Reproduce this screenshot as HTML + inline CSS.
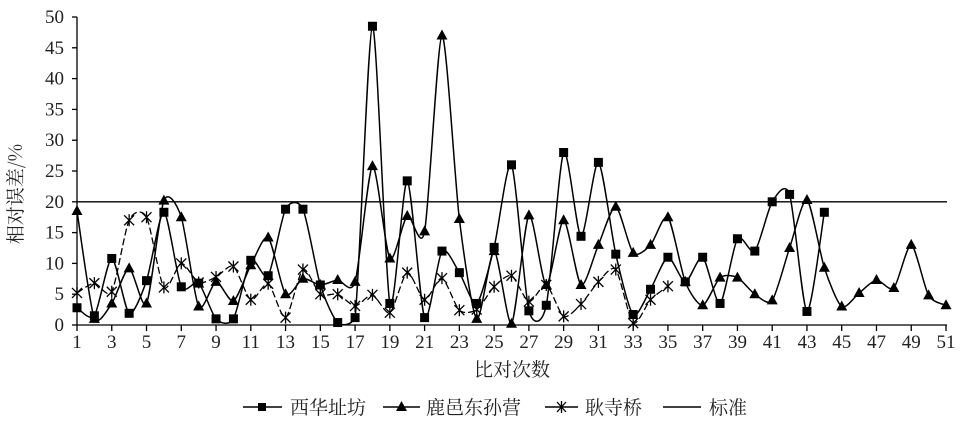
<!DOCTYPE html>
<html><head><meta charset="utf-8"><style>
html,body{margin:0;padding:0;background:#fff;}
svg{display:block;font-family:"Liberation Serif","Noto Serif CJK SC",serif;}
</style></head><body>
<svg id="c" width="969" height="423" viewBox="0 0 969 423" xmlns="http://www.w3.org/2000/svg">
<g id="ax" stroke="#000" stroke-width="1.3" fill="none"></g>
<g id="lbl" font-size="19" fill="#222"></g>
<g id="ser"></g>
<text x="18" y="190" font-size="19" fill="#222" transform="rotate(-90 22 190)" text-anchor="middle" font-family="'Noto Serif CJK SC',serif">相对误差/%</text>
<text x="512" y="376" font-size="19" fill="#222" text-anchor="middle" font-family="'Noto Serif CJK SC',serif">比对次数</text>
<g font-size="19" fill="#222" font-family="'Noto Serif CJK SC',serif">
<line x1="243" y1="407" x2="282" y2="407" stroke="#000" stroke-width="1.5"/><rect x="258" y="403" width="8" height="8" fill="#000"/>
<text x="290" y="414">西华址坊</text>
<line x1="383" y1="407" x2="420" y2="407" stroke="#000" stroke-width="1.5"/><polygon points="401.5,401 407,411 396,411" fill="#000"/>
<text x="426" y="414">鹿邑东孙营</text>
<line x1="545" y1="407" x2="578" y2="407" stroke="#000" stroke-width="1.5"/><path d="M557,402L566,412M566,402L557,412M561.5,401V413" stroke="#000" stroke-width="1.3"/>
<text x="585" y="414">耿寺桥</text>
<line x1="663" y1="407" x2="701" y2="407" stroke="#000" stroke-width="1.5"/>
<text x="709" y="414">标准</text>
</g>
</svg>
<script>
const NS="http://www.w3.org/2000/svg";
const X=i=>77+17.38*(i-1), Y=v=>325-6.16*v;
const ax=document.getElementById('ax'), lbl=document.getElementById('lbl'), ser=document.getElementById('ser');
function el(p,t,a){const e=document.createElementNS(NS,t);for(const k in a)e.setAttribute(k,a[k]);p.appendChild(e);return e;}
el(ax,'line',{x1:77,y1:17,x2:77,y2:325});
el(ax,'line',{x1:77,y1:325,x2:947,y2:325});
for(let v=0;v<=50;v+=5){el(ax,'line',{x1:72,y1:Y(v),x2:77,y2:Y(v)});const t=el(lbl,'text',{x:64,y:Y(v)+6,'text-anchor':'end'});t.textContent=v;}
for(let i=1;i<=51;i+=2){el(ax,'line',{x1:X(i),y1:325,x2:X(i),y2:331});const t=el(lbl,'text',{x:X(i),y:348,'text-anchor':'middle'});t.textContent=i;}
el(ax,'line',{x1:77,y1:Y(20),x2:947,y2:Y(20)});
const sq=[2.8,1.5,10.8,1.9,7.2,18.3,6.2,6.8,1.0,1.0,10.5,8.0,18.8,18.8,6.5,0.4,1.2,48.5,3.5,23.4,1.2,12.0,8.5,3.5,12.6,26,2.3,3.2,28,14.4,26.4,11.5,1.7,5.8,11.0,7.0,11.0,3.5,14.0,12.0,20.0,21.2,2.2,18.3];
const tr=[18.5,1.0,3.5,9.2,3.5,20.2,17.5,3.0,7.0,3.9,9.7,14.2,5.0,7.5,6.5,7.3,7.0,25.8,10.8,17.7,15.2,47,17.2,1.0,12.0,0.2,17.8,6.5,17,6.5,13,19.2,11.7,13,17.5,7.0,3.2,7.7,7.7,5.0,4.0,12.5,20.3,9.3,3.0,5.2,7.3,6.0,13.0,4.8,3.2];
const xs=[5.2,6.8,5.4,17.0,17.5,6.1,10.0,6.9,7.8,9.5,4.1,6.7,1.2,9.0,5.0,5.0,3.1,4.9,2.0,8.5,4.1,7.6,2.4,2.5,6.2,8.0,3.8,6.5,1.4,3.4,7.0,9.0,0.3,4.1,6.3];
function path(d){const p=d.map((v,i)=>[X(i+1),Y(v)]);let s=`M${p[0][0]},${p[0][1]}`;const k=8;
for(let i=0;i<p.length-1;i++){const p0=p[Math.max(0,i-1)],p1=p[i],p2=p[i+1],p3=p[Math.min(p.length-1,i+2)];
let c1=[p1[0]+(p2[0]-p0[0])/k,p1[1]+(p2[1]-p0[1])/k],c2=[p2[0]-(p3[0]-p1[0])/k,p2[1]-(p3[1]-p1[1])/k];
c1[1]=Math.min(c1[1],326);c2[1]=Math.min(c2[1],326);
s+=`C${c1[0]},${c1[1]} ${c2[0]},${c2[1]} ${p2[0]},${p2[1]}`;}return s;}
el(ser,'path',{d:path(sq),fill:'none',stroke:'#000','stroke-width':1.5});
el(ser,'path',{d:path(tr),fill:'none',stroke:'#000','stroke-width':1.5});
el(ser,'path',{d:path(xs),fill:'none',stroke:'#000','stroke-width':1.3,'stroke-dasharray':'7,3'});
sq.forEach((v,i)=>el(ser,'rect',{x:X(i+1)-4.5,y:Y(v)-4.5,width:9,height:9,fill:'#000'}));
tr.forEach((v,i)=>{const x=X(i+1),y=Y(v);el(ser,'polygon',{points:`${x},${y-6} ${x+5.5},${y+4} ${x-5.5},${y+4}`,fill:'#000'});});
xs.forEach((v,i)=>{const x=X(i+1),y=Y(v);el(ser,'path',{d:`M${x-5},${y-5}L${x+5},${y+5}M${x+5},${y-5}L${x-5},${y+5}M${x},${y-6}V${y+6}`,stroke:'#000','stroke-width':1.3});});
</script>
</body></html>
